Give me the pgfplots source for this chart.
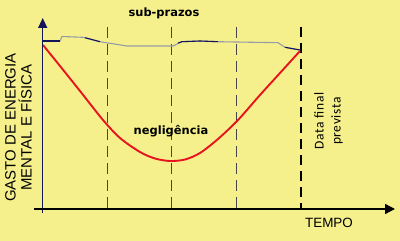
\documentclass[border=0pt]{standalone}
\usepackage{fontspec}
\setmainfont{Liberation Sans}
\newfontfamily\dejab{DejaVu Sans}
\newfontfamily\carl{Carlito}[LetterSpace=5]
\usepackage{pgfplots}
\pgfplotsset{compat=1.18}
\usetikzlibrary{arrows.meta}
\definecolor{bgy}{RGB}{245,240,140}
\definecolor{redc}{RGB}{230,20,30}
\definecolor{navyc}{RGB}{20,20,90}
\definecolor{grayc}{RGB}{150,155,165}
\definecolor{dashc}{RGB}{70,70,70}
\begin{document}
\begin{tikzpicture}
\begin{axis}[
  scale only axis, width=400bp, height=241bp,
  xmin=0, xmax=400, ymin=0, ymax=241, y dir=reverse,
  hide axis, clip=false]
% background
\addplot[fill=bgy, draw=none] coordinates {(0,0)(400,0)(400,241)(0,241)(0,0)};
% dashed verticals
\addplot[dashc, line width=0.9bp, dash pattern=on 11bp off 6bp] coordinates {(107.3,27)(107.3,209)};
\addplot[dashc, line width=0.9bp, dash pattern=on 11bp off 6bp] coordinates {(171.7,27)(171.7,209)};
\addplot[dashc, line width=0.9bp, dash pattern=on 11bp off 6bp] coordinates {(236,27)(236,209)};
\addplot[black, line width=1.6bp, dash pattern=on 10bp off 6bp] coordinates {(301,27)(301,209)};
% top line
\addplot[grayc, line width=1.1bp] coordinates {(42.7,41)(60,41)(62,36.5)(83,37.3)(100,41.7)(127,46)(173,46)(182,41.7)(200,41)(218,41.7)(278,42.7)(285,47.3)(300,50)};
\addplot[navyc, line width=1.1bp] coordinates {(42.7,41)(60,41)};
\addplot[navyc, line width=1.1bp] coordinates {(85,37.7)(100,41.7)};
\addplot[navyc, line width=1.1bp] coordinates {(178,43)(182,41.7)(200,41)(218,41.7)};
\addplot[navyc, line width=1.1bp] coordinates {(285,47.3)(300,50)};
% red curve
\addplot[redc, line width=1.9bp, smooth, tension=0.5] coordinates {(43,45)(60,66)(80,91)(103,120)(120,138)(140,152)(155,158.5)(170,161)(185,159.5)(200,153)(218,139)(238,120)(260,95)(280,73)(300,51)};
% axes
\addplot[navyc, line width=1.4bp, -{Triangle[length=10bp,width=9bp]}] coordinates {(42.7,213)(42.7,18)};
\addplot[black, line width=1.4bp, -{Triangle[length=10bp,width=10bp]}] coordinates {(34,209)(395,209)};
% texts
\node[font=\dejab\bfseries\fontsize{11.5}{13}\selectfont] at (axis cs:164,13) {sub-prazos};
\node[font=\dejab\bfseries\fontsize{11.5}{13}\selectfont] at (axis cs:171,131) {negligência};
\node[rotate=90, align=center, font=\fontsize{15}{16}\selectfont, inner sep=0pt] at (axis cs:18.5,127.5) {GASTO DE ENERGIA\\MENTAL E FÍSICA};
\node[rotate=90, align=center, font=\carl\fontsize{13.5}{17}\selectfont, inner sep=0pt] at (axis cs:328.5,121) {Data final\\prevista};
\node[font=\fontsize{13.5}{15}\selectfont, inner sep=0pt] at (axis cs:329,223) {TEMPO};
\end{axis}
\end{tikzpicture}
\end{document}
